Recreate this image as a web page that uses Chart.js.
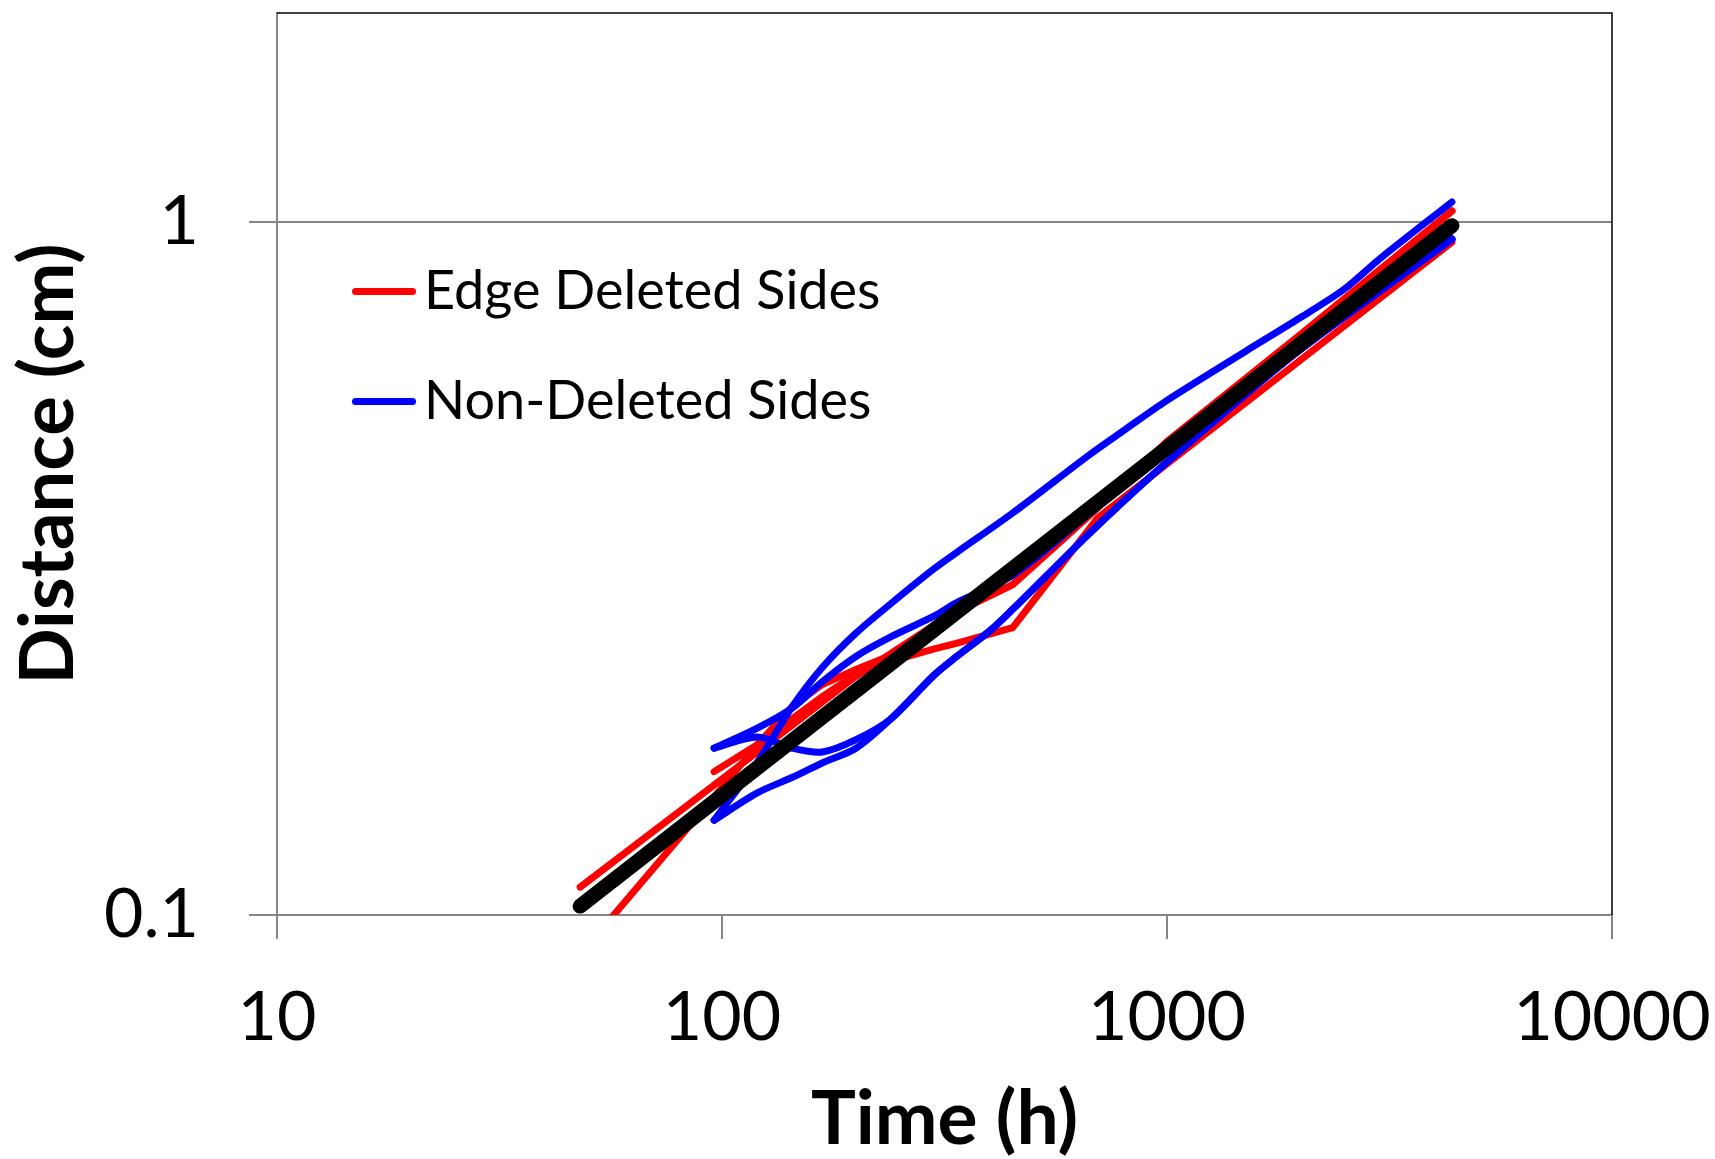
<!DOCTYPE html>
<html>
<head>
<meta charset="utf-8">
<script src="https://cdn.jsdelivr.net/npm/chart.js@4.4.1/dist/chart.umd.min.js"></script>
<style>
  html, body { margin:0; padding:0; background:#fff; }
  #wrap { position:relative; width:1715px; height:1159px; }
  canvas { position:absolute; left:0; top:0; }
  .leg { position:absolute; font-family: Lato, "Open Sans", sans-serif; font-size:54px; color:#000; line-height:60px; white-space:nowrap; }
  .legline { position:absolute; height:7px; border-radius:3.5px; }
</style>
</head>
<body>
<div id="wrap">
  <canvas id="c" width="1715" height="1159"></canvas>
  <div class="legline" style="left:352px; top:288px; width:64px; background:#ff0000;"></div>
  <div class="leg" style="left:424px; top:259px;">Edge Deleted Sides</div>
  <div class="legline" style="left:352px; top:398px; width:64px; background:#0000ff;"></div>
  <div class="leg" style="left:424px; top:369px;">Non-Deleted Sides</div>
</div>
<script>
// ---- tick labels ----
const xTicks = [10, 100, 1000, 10000];
const xTickLabels = ['10', '100', '1000', '10000'];
const yTicks = [0.1, 1];
const yTickLabels = ['0.1', '1'];

// ---- series (time in h, distance in cm) ----
const fitTimes = [48, 4368];
const fitValues = [0.103, 0.987];

const edgeA_times = [48, 96, 144, 200, 300, 336, 450, 672, 1000, 2000, 4368];
const edgeA_values = [0.1097, 0.154, 0.188, 0.221, 0.262, 0.2735, 0.2996, 0.378, 0.4818, 0.688, 1.036];

const edgeB_times = [48, 96, 120, 144, 168, 200, 240, 300, 336, 450, 672, 1000, 2000, 4368];
const edgeB_values = [0.0877, 0.148, 0.176, 0.200, 0.215, 0.226, 0.237, 0.262, 0.2735, 0.2996, 0.378, 0.4818, 0.688, 1.036];

const edgeC_times = [96, 120, 144, 168, 200, 240, 300, 336, 450, 700, 4368];
const edgeC_values = [0.161, 0.176, 0.192, 0.2066, 0.2226, 0.2324, 0.2421, 0.2465, 0.2597, 0.3744, 0.934];

const nonA_times = [96, 120, 144, 168, 200, 240, 300, 336, 450, 672, 800, 1000, 1500, 2000, 2500, 3000, 4368];
const nonA_values = [0.137, 0.166, 0.200, 0.2275, 0.255, 0.2815, 0.316, 0.333, 0.380, 0.462, 0.500, 0.5525, 0.650, 0.728, 0.799, 0.883, 1.068];

const nonB_times = [96, 120, 144, 168, 200, 240, 300, 336, 450, 672, 1000, 2000, 4368];
const nonB_values = [0.174, 0.186, 0.199, 0.217, 0.236, 0.252, 0.270, 0.282, 0.309, 0.380, 0.466, 0.655, 0.944];

const nonC_times = [96, 120, 144, 168, 200, 240, 300, 336, 400, 450, 672, 1000, 2000, 4368];
const nonC_values = [0.174, 0.1806, 0.174, 0.1718, 0.179, 0.192, 0.222, 0.2357, 0.257, 0.276, 0.356, 0.450, 0.655, 0.944];

const nonD_times = [96, 120, 144, 168, 200, 240, 300, 336, 400, 450, 672, 1000, 2000, 4368];
const nonD_values = [0.137, 0.150, 0.158, 0.1657, 0.174, 0.192, 0.222, 0.2357, 0.257, 0.276, 0.356, 0.450, 0.655, 0.944];

const RED = '#ff0000', BLUE = '#0000ff', BLACK = '#000000', GRAY = '#868686';

function pts(ts, vs) { return ts.map((t, i) => ({ x: t, y: vs[i] })); }
function ds(label, ts, vs, color, width, tension, order) {
  return {
    label, data: pts(ts, vs), borderColor: color, backgroundColor: color,
    borderWidth: width, pointRadius: 0, pointHoverRadius: 0, tension,
    borderCapStyle: 'round', borderJoinStyle: tension > 0 ? 'round' : 'miter',
    fill: false, clip: 0, order
  };
}

const frame = {
  id: 'frame',
  beforeDatasetsDraw(chart) {
    const { ctx, chartArea: a } = chart;
    ctx.save();
    ctx.strokeStyle = '#000';
    ctx.lineWidth = 1.5;
    ctx.beginPath();
    ctx.moveTo(a.left, a.top);
    ctx.lineTo(a.right, a.top);
    ctx.lineTo(a.right, a.bottom);
    ctx.stroke();
    ctx.restore();
  }
};

function zeroPad(s) { s.paddingTop = 0; s.paddingBottom = 0; s.paddingLeft = 0; s.paddingRight = 0; }

new Chart(document.getElementById('c'), {
  type: 'line',
  data: {
    datasets: [
      ds('Fit', fitTimes, fitValues, BLACK, 15, 0, 0),
      ds('Non-Deleted Sides', nonA_times, nonA_values, BLUE, 7, 0.3, 1),
      ds('Non-Deleted Sides 2', nonB_times, nonB_values, BLUE, 7, 0.3, 1),
      ds('Non-Deleted Sides 3', nonC_times, nonC_values, BLUE, 7, 0.3, 1),
      ds('Non-Deleted Sides 4', nonD_times, nonD_values, BLUE, 7, 0.3, 1),
      ds('Edge Deleted Sides', edgeA_times, edgeA_values, RED, 7, 0, 2),
      ds('Edge Deleted Sides 2', edgeB_times, edgeB_values, RED, 7, 0, 2),
      ds('Edge Deleted Sides 3', edgeC_times, edgeC_values, RED, 7, 0, 2)
    ]
  },
  options: {
    responsive: false,
    animation: false,
    devicePixelRatio: 1,
    layout: { padding: { top: 13, right: 103, left: 0, bottom: 0 } },
    plugins: { legend: { display: false }, tooltip: { enabled: false } },
    scales: {
      x: {
        type: 'logarithmic', min: 10, max: 10000,
        afterBuildTicks: s => { s.ticks = xTicks.map(v => ({ value: v })); },
        afterFit: s => { s.height = 244; zeroPad(s); },
        ticks: {
          callback: (v, i) => xTickLabels[i], autoSkip: false, maxRotation: 0,
          font: { family: 'Lato', size: 68 }, color: '#000', padding: 38
        },
        grid: { drawOnChartArea: false, drawTicks: true, tickLength: 24, color: GRAY, lineWidth: 2 },
        border: { display: true, color: GRAY, width: 2 },
        title: {
          display: true, text: 'Time (h)', color: '#000',
          font: { family: 'Lato', size: 75, weight: 'bold', lineHeight: 1 },
          padding: { top: 0, bottom: 2 }
        }
      },
      y: {
        type: 'logarithmic', min: 0.1, max: 2,
        afterBuildTicks: s => { s.ticks = yTicks.map(v => ({ value: v })); },
        afterFit: s => { s.width = 277; zeroPad(s); },
        ticks: {
          callback: (v, i) => yTickLabels[i], autoSkip: false,
          font: { family: 'Lato', size: 68 }, color: '#000', padding: 50
        },
        grid: { drawOnChartArea: true, drawTicks: true, tickLength: 28, color: GRAY, lineWidth: 2 },
        border: { display: true, color: GRAY, width: 2 },
        title: {
          display: true, text: 'Distance (cm)', color: '#000',
          font: { family: 'Lato', size: 74, weight: 'bold', lineHeight: 1.2 },
          padding: { top: 5, bottom: 0 }
        }
      }
    }
  },
  plugins: [frame]
});
</script>
</body>
</html>
